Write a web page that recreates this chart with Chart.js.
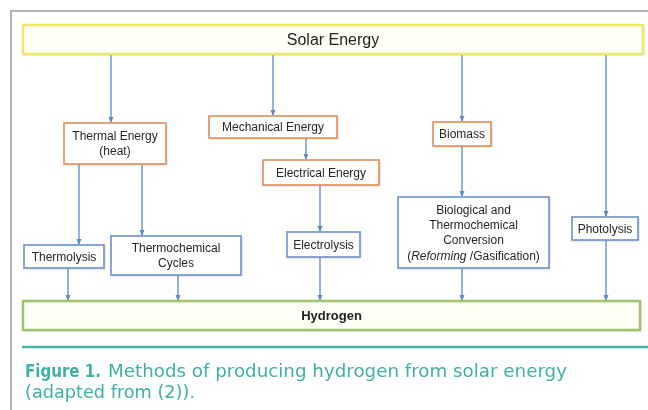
<!DOCTYPE html>
<html>
<head>
<meta charset="utf-8">
<script src="https://cdn.jsdelivr.net/npm/chart.js@4.4.1/dist/chart.umd.min.js"></script>
<style>
  html, body { margin: 0; padding: 0; background: #fff; }
  #wrap { width: 648px; height: 410px; }
</style>
</head>
<body>
<div id="wrap"><canvas id="flow" width="648" height="410"></canvas></div>
<script>
// node names (one per box), '*' marks italic text
var nodeLabels = [
  'Solar Energy',
  'Thermal Energy\n(heat)',
  'Mechanical Energy',
  'Electrical Energy',
  'Biomass',
  'Thermolysis',
  'Thermochemical\nCycles',
  'Electrolysis',
  'Biological and\nThermochemical\nConversion\n(*Reforming* /Gasification)',
  'Photolysis',
  'Hydrogen'
];
var nodeKinds = ['sun', 'src', 'src', 'src', 'src', 'proc', 'proc', 'proc', 'proc', 'proc', 'out'];

// links: [from, to]
var linkFrom = [0, 0, 0, 0, 2, 1, 1, 3, 4, 5, 6, 7, 8, 9];
var linkTo   = [1, 2, 4, 9, 3, 5, 6, 7, 8, 10, 10, 10, 10, 10];

var captionBold = 'Figure 1.';
var captionLines = ['Methods of producing hydrogen from solar energy', '(adapted from (2)).'];

// layout in scale units: [x1, y1, x2, y2]
var boxes = [
  [23, 25, 643, 54],
  [64, 123, 166, 164],
  [209, 116, 337, 138],
  [263, 160, 379, 185],
  [433, 122, 491, 146],
  [24, 245, 104, 268],
  [111, 236, 241, 275],
  [287, 232, 360, 257],
  [398, 197, 549, 268],
  [572, 217, 638, 240],
  [23, 301, 640, 330]
];
var linkX = [111, 273, 462, 606, 306, 79, 142, 320, 462, 68, 178, 320, 462, 606];

var styles = {
  sun:  { stroke: '#f1e86a', fill: '#fffff6', width: 2.5, font: '16px "Liberation Sans"', color: '#222' },
  src:  { stroke: '#e39a6c', fill: '#ffffff', width: 1.8, font: '12px "Liberation Sans"', color: '#262626' },
  proc: { stroke: '#7d9ccf', fill: '#ffffff', width: 1.8, font: '12px "Liberation Sans"', color: '#262626' },
  out:  { stroke: '#9dc36c', fill: '#fdfff6', width: 2.5, font: 'bold 13px "Liberation Sans"', color: '#222' }
};

var linkSets = linkFrom.map(function (f, i) {
  var t = linkTo[i];
  return {
    type: 'line',
    data: [{ x: linkX[i], y: boxes[f][3] }, { x: linkX[i], y: boxes[t][1] - 1 }],
    borderColor: '#5f88c6',
    borderWidth: 1.3,
    pointRadius: 0,
    showLine: true
  };
});

function drawLabel(ctx, text, cx, cy, st) {
  var lines = text.split('\n');
  var lh = parseInt(st.font.match(/(\d+)px/)[1], 10) * 1.27;
  var y0 = cy - (lines.length - 1) * lh / 2;
  ctx.fillStyle = st.color;
  ctx.textBaseline = 'middle';
  lines.forEach(function (ln, k) {
    var parts = ln.split('*');
    var fonts = parts.map(function (p, j) { return (j % 2 ? 'italic ' : '') + st.font; });
    var w = 0;
    parts.forEach(function (p, j) { ctx.font = fonts[j]; w += ctx.measureText(p).width; });
    var x = cx - w / 2;
    ctx.textAlign = 'left';
    parts.forEach(function (p, j) {
      ctx.font = fonts[j];
      ctx.fillText(p, x, y0 + k * lh);
      x += ctx.measureText(p).width;
    });
  });
}

// draw text squeezed/stretched to a given width
function fitText(ctx, text, x, y, w) {
  var m = ctx.measureText(text).width;
  ctx.save();
  ctx.translate(x, y);
  ctx.scale(w / m, 1);
  ctx.fillText(text, 0, 0);
  ctx.restore();
}

var flowPlugin = {
  id: 'flow',
  beforeDatasetsDraw: function (chart) {
    var ctx = chart.ctx, sx = chart.scales.x, sy = chart.scales.y;
    ctx.save();
    // page frame
    ctx.strokeStyle = '#b4b4b4';
    ctx.lineWidth = 2;
    ctx.beginPath();
    ctx.moveTo(sx.getPixelForValue(11), sy.getPixelForValue(410));
    ctx.lineTo(sx.getPixelForValue(11), sy.getPixelForValue(11));
    ctx.lineTo(sx.getPixelForValue(648), sy.getPixelForValue(11));
    ctx.stroke();
    ctx.restore();
  },
  afterDatasetsDraw: function (chart) {
    var ctx = chart.ctx, sx = chart.scales.x, sy = chart.scales.y;
    ctx.save();
    // arrow heads
    ctx.fillStyle = '#5f88c6';
    linkFrom.forEach(function (f, i) {
      var x = sx.getPixelForValue(linkX[i]);
      var y = sy.getPixelForValue(boxes[linkTo[i]][1] - 1);
      ctx.beginPath();
      ctx.moveTo(x, y + 1);
      ctx.lineTo(x - 2.5, y - 5);
      ctx.lineTo(x + 2.5, y - 5);
      ctx.closePath();
      ctx.fill();
    });
    // boxes
    boxes.forEach(function (b, i) {
      var st = styles[nodeKinds[i]];
      var x1 = sx.getPixelForValue(b[0]), y1 = sy.getPixelForValue(b[1]);
      var x2 = sx.getPixelForValue(b[2]), y2 = sy.getPixelForValue(b[3]);
      ctx.shadowColor = 'rgba(0,0,0,0.25)';
      ctx.shadowBlur = 2;
      ctx.shadowOffsetX = 1;
      ctx.shadowOffsetY = 1;
      ctx.fillStyle = st.fill;
      ctx.fillRect(x1, y1, x2 - x1, y2 - y1);
      ctx.shadowColor = 'transparent';
      ctx.strokeStyle = st.stroke;
      ctx.lineWidth = st.width;
      ctx.strokeRect(x1, y1, x2 - x1, y2 - y1);
      drawLabel(ctx, nodeLabels[i], (x1 + x2) / 2, (y1 + y2) / 2 + 1, st);
    });
    // caption rule
    ctx.strokeStyle = '#43b4a8';
    ctx.lineWidth = 2.5;
    ctx.beginPath();
    ctx.moveTo(sx.getPixelForValue(22), sy.getPixelForValue(347));
    ctx.lineTo(sx.getPixelForValue(648), sy.getPixelForValue(347));
    ctx.stroke();
    // caption text
    ctx.fillStyle = '#3fb0a5';
    ctx.textAlign = 'left';
    ctx.textBaseline = 'alphabetic';
    ctx.font = 'bold 17px "DejaVu Sans"';
    fitText(ctx, captionBold, sx.getPixelForValue(25), sy.getPixelForValue(377), 76);
    ctx.font = '17px "DejaVu Sans"';
    fitText(ctx, captionLines[0], sx.getPixelForValue(108), sy.getPixelForValue(377), 459);
    fitText(ctx, captionLines[1], sx.getPixelForValue(25), sy.getPixelForValue(398), 170);
    ctx.restore();
  }
};

var fc = document.getElementById('flow').getContext('2d');
var flowChart = new Chart(fc, {
  type: 'scatter',
  data: { datasets: linkSets },
  options: {
    responsive: false,
    animation: false,
    layout: { padding: 0 },
    plugins: { legend: { display: false }, tooltip: { enabled: false } },
    scales: {
      x: { type: 'linear', min: 0, max: 648, display: false },
      y: { type: 'linear', min: 0, max: 410, reverse: true, display: false }
    }
  },
  plugins: [flowPlugin]
});
</script>
</body>
</html>
